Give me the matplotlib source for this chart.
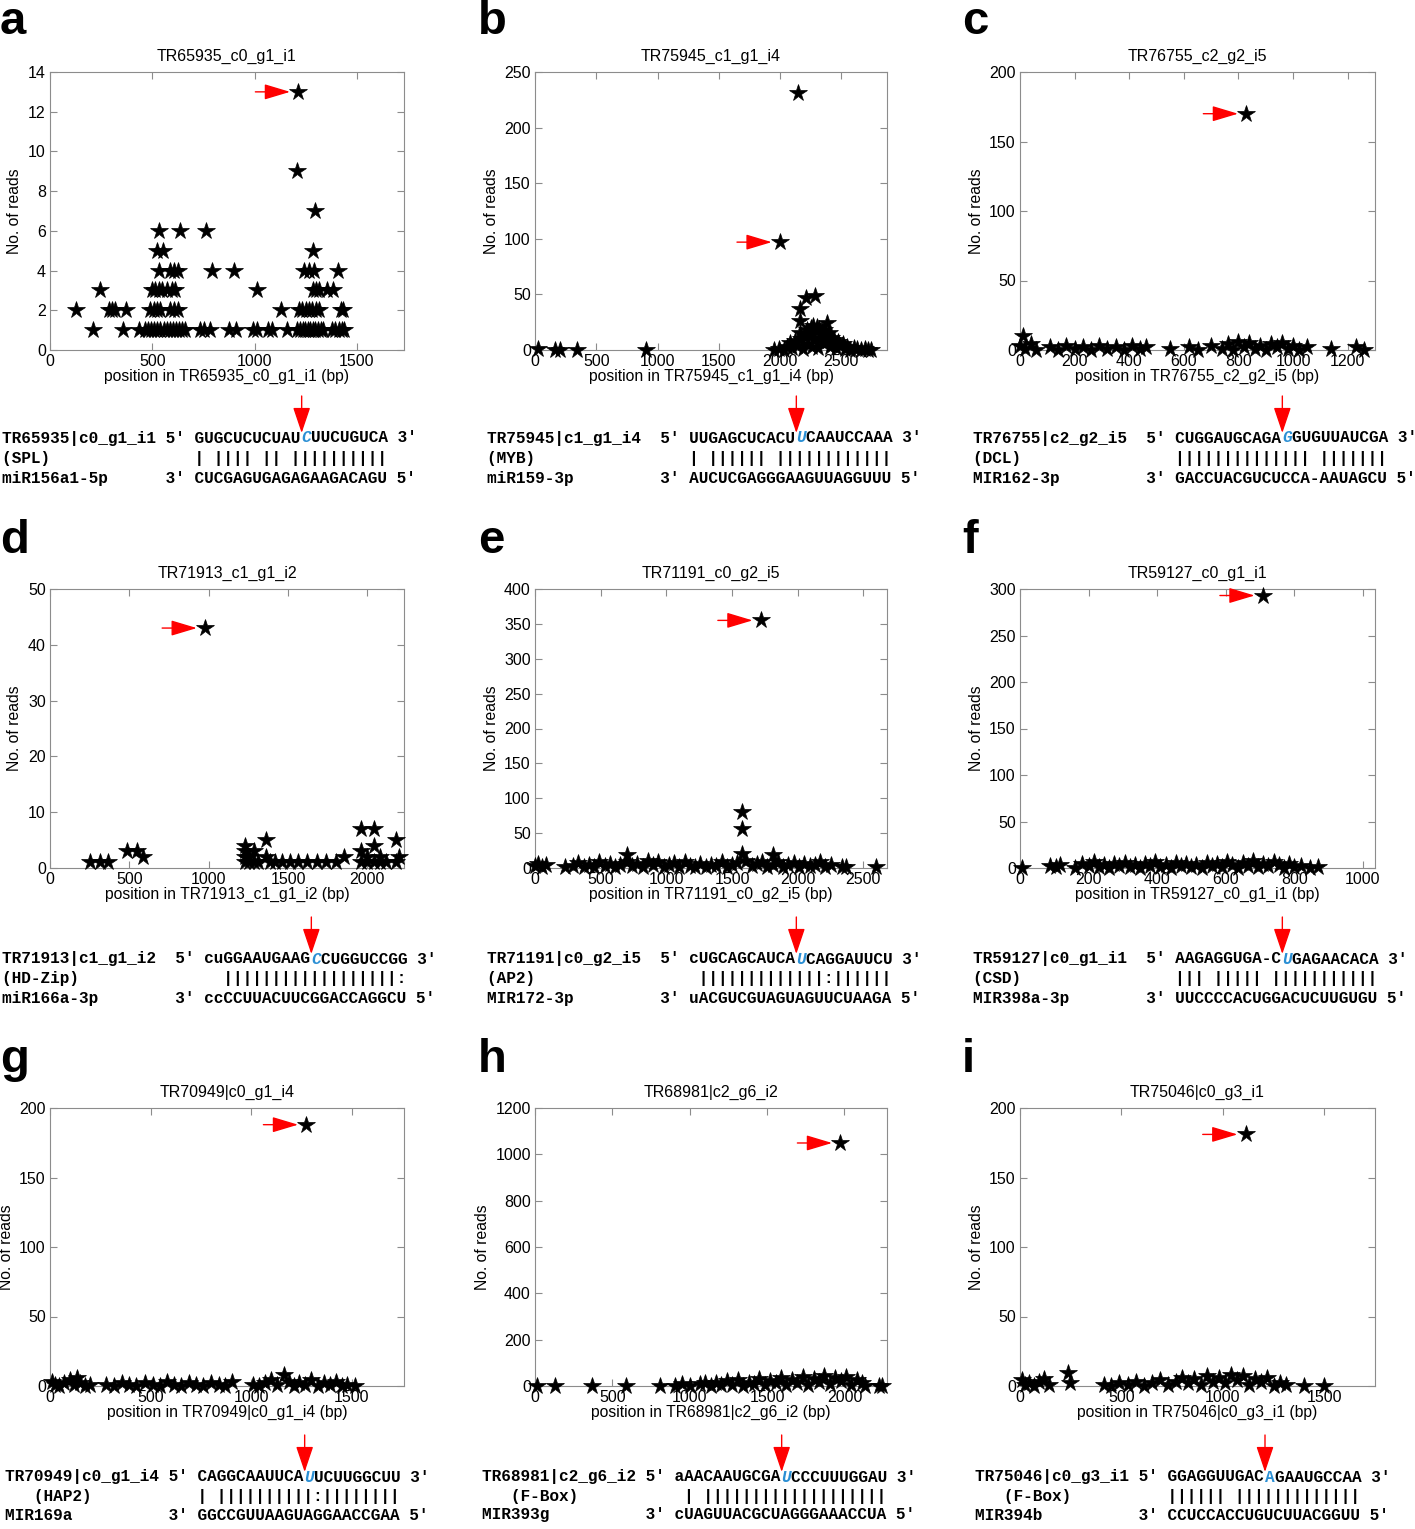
import numpy as np
import matplotlib.pyplot as plt
from matplotlib.patches import FancyArrowPatch

plt.rcParams["font.family"] = ["Liberation Sans", "DejaVu Sans"]

# ---- read counts along each transcript: (position in bp, no. of reads) ----
a_points = [(212, 1), (355, 1), (433, 1), (466, 1), (480, 1), (495, 1), (510, 1), (525, 1), (540, 1),
            (555, 1), (570, 1), (585, 1), (600, 1), (615, 1), (630, 1), (645, 1), (662, 1), (735, 1),
            (752, 1), (784, 1), (874, 1), (907, 1), (993, 1), (1013, 1), (1067, 1), (1083, 1), (1160, 1),
            (1209, 1), (1222, 1), (1235, 1), (1248, 1), (1260, 1), (1272, 1), (1285, 1), (1297, 1),
            (1310, 1), (1322, 1), (1332, 1), (1380, 1), (1395, 1), (1410, 1), (1425, 1), (1438, 1),
            (126, 2), (286, 2), (302, 2), (318, 2), (372, 2), (490, 2), (506, 2), (523, 2), (538, 2),
            (588, 2), (605, 2), (626, 2), (1130, 2), (1217, 2), (1233, 2), (1249, 2), (1265, 2),
            (1282, 2), (1298, 2), (1315, 2), (1422, 2), (1430, 2),
            (245, 3), (498, 3), (515, 3), (531, 3), (547, 3), (572, 3), (596, 3), (613, 3), (1013, 3),
            (1283, 3), (1300, 3), (1315, 3), (1356, 3), (1381, 3),
            (531, 4), (588, 4), (605, 4), (626, 4), (792, 4), (899, 4), (1242, 4), (1266, 4), (1291, 4),
            (1408, 4), (523, 5), (551, 5), (1283, 5), (534, 6), (637, 6), (763, 6), (1296, 7), (1209, 9)]
a_hit = (1214, 13)

b_points = [(27, 1), (163, 0), (204, 0), (340, 0), (905, 0), (2147, 231),
            (1950, 0), (1990, 1), (2030, 0), (2060, 3), (2080, 6), (2100, 2), (2120, 8), (2140, 4),
            (2160, 15), (2160, 26), (2160, 37), (2170, 10), (2190, 1), (2200, 12), (2209, 47),
            (2220, 18), (2230, 5), (2240, 14), (2250, 20), (2260, 3), (2270, 22), (2280, 9),
            (2288, 49), (2290, 17), (2300, 21), (2310, 2), (2320, 19), (2330, 11), (2340, 16),
            (2350, 6), (2360, 18), (2370, 13), (2383, 24), (2390, 8), (2400, 15), (2410, 3),
            (2420, 11), (2430, 6), (2440, 9), (2460, 2), (2470, 7), (2490, 4), (2510, 5), (2530, 1),
            (2550, 3), (2570, 0), (2600, 2), (2630, 1), (2660, 0), (2690, 1), (2720, 0), (2745, 0)]
b_hit = (2000, 97)

c_points = [(0, 3), (10, 10), (20, 1), (40, 4), (60, 0), (110, 2), (140, 0), (170, 3), (200, 1),
            (230, 2), (260, 0), (290, 3), (320, 1), (350, 2), (380, 0), (410, 3), (440, 1), (460, 2),
            (550, 1), (620, 2), (650, 0), (700, 3), (740, 1), (760, 4), (780, 0), (800, 6), (820, 2),
            (840, 5), (860, 1), (880, 3), (900, 0), (920, 4), (940, 2), (960, 5), (980, 1), (1000, 3),
            (1020, 0), (1050, 2), (1140, 1), (1230, 2), (1260, 0)]
c_hit = (829, 170)

d_points = [(252, 1), (315, 1), (366, 1), (486, 3), (549, 3), (587, 2), (1230, 1), (1230, 2), (1230, 3),
            (1230, 4), (1255, 1), (1255, 2), (1285, 1), (1285, 3), (1310, 1), (1360, 5), (1360, 2),
            (1385, 1), (1420, 1), (1460, 1), (1510, 1), (1560, 1), (1620, 1), (1680, 1), (1740, 1),
            (1800, 1), (1850, 2), (1960, 7), (1960, 3), (1960, 1), (2000, 1), (2000, 2), (2040, 7),
            (2040, 4), (2040, 1), (2080, 1), (2080, 2), (2120, 1), (2180, 5), (2180, 1), (2200, 2)]
d_hit = (978, 43)

e_points = [(0, 3), (20, 6), (50, 1), (80, 4), (230, 2), (290, 3), (330, 7), (370, 1), (410, 5),
            (450, 2), (490, 8), (530, 3), (570, 6), (610, 1), (650, 4), (700, 9), (700, 18), (740, 3),
            (780, 6), (820, 2), (860, 10), (900, 5), (940, 8), (980, 1), (1020, 4), (1060, 7),
            (1100, 2), (1140, 9), (1180, 3), (1220, 1), (1260, 6), (1300, 2), (1340, 5), (1380, 3),
            (1420, 8), (1460, 1), (1500, 4), (1540, 7), (1575, 80), (1575, 56), (1575, 20), (1610, 10),
            (1650, 3), (1690, 6), (1730, 9), (1770, 2), (1810, 18), (1810, 5), (1850, 8), (1890, 1),
            (1930, 4), (1970, 7), (2010, 2), (2050, 6), (2090, 3), (2130, 5), (2170, 9), (2210, 1),
            (2250, 4), (2340, 2), (2370, 1), (2600, 1)]
e_hit = (1720, 355)

f_points = [(5, 0), (88, 2), (105, 1), (117, 3), (160, 0), (180, 4), (200, 2), (215, 6), (230, 1),
            (245, 3), (260, 0), (275, 4), (290, 2), (305, 5), (320, 1), (335, 3), (350, 0), (365, 4),
            (380, 2), (395, 6), (410, 1), (425, 3), (440, 0), (455, 5), (470, 2), (485, 4), (500, 1),
            (515, 3), (530, 0), (545, 5), (560, 2), (575, 4), (590, 1), (605, 6), (620, 3), (635, 0),
            (650, 5), (665, 2), (680, 7), (695, 1), (710, 4), (725, 2), (740, 6), (755, 3), (770, 0),
            (785, 4), (800, 1), (820, 2), (845, 0), (870, 1)]
f_hit = (709, 293)

g_points = [(10, 3), (25, 1), (45, 0), (70, 2), (100, 4), (120, 1), (135, 6), (150, 2), (175, 0),
            (200, 1), (280, 1), (320, 0), (360, 2), (395, 1), (430, 0), (470, 2), (510, 1), (545, 0),
            (580, 3), (615, 1), (650, 0), (690, 2), (725, 1), (760, 0), (800, 2), (840, 1), (870, 0),
            (905, 3), (1010, 1), (1040, 0), (1070, 2), (1100, 4), (1130, 1), (1165, 8), (1190, 3),
            (1215, 0), (1240, 2), (1270, 1), (1300, 4), (1330, 0), (1360, 2), (1390, 1), (1420, 3),
            (1450, 0), (1475, 1), (1515, 0)]
g_hit = (1275, 188)

h_points = [(13, 0), (130, 0), (368, 0), (587, 0), (806, 0), (903, 0), (950, 10), (1000, 0),
            (1065, 8), (1100, 15), (1135, 0), (1170, 12), (1205, 3), (1240, 20), (1275, 6),
            (1310, 25), (1345, 0), (1380, 15), (1415, 8), (1450, 30), (1485, 3), (1520, 22),
            (1555, 12), (1590, 35), (1625, 6), (1660, 28), (1695, 15), (1730, 40), (1765, 3),
            (1800, 30), (1835, 18), (1870, 45), (1905, 9), (1940, 33), (1975, 20), (2010, 38),
            (2045, 6), (2080, 24), (2115, 12), (2130, 0), (2226, 0), (2245, 2)]
h_hit = (1974, 1049)

i_points = [(10, 4), (25, 1), (45, 2), (70, 0), (95, 3), (120, 5), (145, 1), (235, 9), (245, 2),
            (415, 1), (450, 0), (490, 2), (530, 1), (570, 3), (610, 0), (650, 2), (690, 4), (730, 1),
            (770, 3), (800, 6), (830, 2), (860, 5), (890, 1), (920, 7), (950, 3), (980, 6), (1010, 2),
            (1040, 8), (1070, 4), (1100, 7), (1130, 1), (1160, 5), (1190, 3), (1220, 6), (1250, 0),
            (1280, 2), (1310, 1), (1400, 0), (1500, 0)]
i_hit = (1113, 181)

letters = ["a", "b", "c", "d", "e", "f", "g", "h", "i"]
titles = ["TR65935_c0_g1_i1", "TR75945_c1_g1_i4", "TR76755_c2_g2_i5",
          "TR71913_c1_g1_i2", "TR71191_c0_g2_i5", "TR59127_c0_g1_i1",
          "TR70949|c0_g1_i4", "TR68981|c2_g6_i2", "TR75046|c0_g3_i1"]
points = [a_points, b_points, c_points, d_points, e_points, f_points, g_points, h_points, i_points]
hits = [a_hit, b_hit, c_hit, d_hit, e_hit, f_hit, g_hit, h_hit, i_hit]
x_max = [1730, 2873, 1300, 2231, 2680, 1036, 1760, 2275, 1750]
x_ticks = [[0, 500, 1000, 1500], [0, 500, 1000, 1500, 2000, 2500], [0, 200, 400, 600, 800, 1000, 1200],
           [0, 500, 1000, 1500, 2000], [0, 500, 1000, 1500, 2000, 2500], [0, 200, 400, 600, 800, 1000],
           [0, 500, 1000, 1500], [0, 500, 1000, 1500, 2000], [0, 500, 1000, 1500]]
y_max = [14, 250, 200, 50, 400, 300, 200, 1200, 200]
y_step = [2, 50, 50, 10, 50, 50, 50, 200, 50]

# ---- miRNA / target alignments ----
genes = ["TR65935|c0_g1_i1", "TR75945|c1_g1_i4", "TR76755|c2_g2_i5",
         "TR71913|c1_g1_i2", "TR71191|c0_g2_i5", "TR59127|c0_g1_i1",
         "TR70949|c0_g1_i4", "TR68981|c2_g6_i2", "TR75046|c0_g3_i1"]
gaps = [" ", "  ", "  ", "  ", "  ", "  ", " ", " ", " "]
families = ["(SPL)", "(MYB)", "(DCL)", "(HD-Zip)", "(AP2)", "(CSD)", "   (HAP2)", "   (F-Box)", "   (F-Box)"]
mirnas = ["miR156a1-5p", "miR159-3p", "MIR162-3p", "miR166a-3p", "MIR172-3p", "MIR398a-3p",
          "MIR169a", "MIR393g", "MIR394b"]
targets = ["GUGCUCUCUAUCUUCUGUCA", "UUGAGCUCACUUCAAUCCAAA", "CUGGAUGCAGAGGUGUUAUCGA",
           "cuGGAAUGAAGCCUGGUCCGG", "cUGCAGCAUCAUCAGGAUUCU", "AAGAGGUGA-CUGAGAACACA",
           "CAGGCAAUUCAUUCUUGGCUU", "aAACAAUGCGAUCCCUUUGGAU", "GGAGGUUGACAGAAUGCCAA"]
pairings = ["| |||| || ||||||||||", "| |||||| ||||||||||||", "|||||||||||||| |||||||",
            "  ||||||||||||||||||:", " |||||||||||||:||||||", "||| ||||| |||||||||||",
            "| ||||||||||:||||||||", " | |||||||||||||||||||", "|||||| |||||||||||||"]
mir_seqs = ["CUCGAGUGAGAGAAGACAGU", "AUCUCGAGGGAAGUUAGGUUU", "GACCUACGUCUCCA-AAUAGCU",
            "ccCCUUACUUCGGACCAGGCU", "uACGUCGUAGUAGUUCUAAGA", "UUCCCCACUGGACUCUUGUGU",
            "GGCCGUUAAGUAGGAACCGAA", "cUAGUUACGCUAGGGAAACCUA", "CCUCCACCUGUCUUACGGUU"]
cut_site = [11, 11, 11, 11, 11, 11, 11, 11, 10]

W, H = 1415, 1529
fig = plt.figure(figsize=(W / 100, H / 100), dpi=100)

col_left = [50, 535, 1020]
col_w = [354, 352, 355]
row_top = [72, 589, 1108]
row_h = [278, 279, 278]
letter_x = [0, 478, 962]
letter_y = [22, 541, 1060]
text_left = [2, 487, 973, 2, 487, 973, 5, 482, 975]
line_y = [(438, 458, 478), (959, 979, 998), (1477, 1497, 1515)]

fs_mono = 11.6
cw = 0.6 * fs_mono * 100 / 72  # px per monospace char
mono = dict(family=["Liberation Mono", "DejaVu Sans Mono"], weight="bold", fontsize=fs_mono, va="center")
red = "#ff0000"
blue = "#2b8fd4"

for k in range(9):
    r, c = divmod(k, 3)
    l, t, w, h = col_left[c], row_top[r], col_w[c], row_h[r]
    ax = fig.add_axes([l / W, 1 - (t + h) / H, w / W, h / H])
    xs, ys = np.array(points[k]).T
    ax.plot(xs, ys, "*", color="k", ms=13, mew=0.5, clip_on=False, zorder=3)
    hx, hy = hits[k]
    ax.plot([hx], [hy], "*", color="k", ms=13, mew=0.5, clip_on=False, zorder=3)
    ax.annotate("", xy=(hx, hy), xytext=(-31, 0), textcoords="offset points",
                arrowprops=dict(arrowstyle="-|>,head_length=0.8,head_width=0.24", mutation_scale=20,
                                color=red, lw=1, shrinkA=0, shrinkB=6))
    ax.set_xlim(0, x_max[k])
    ax.set_ylim(0, y_max[k])
    ax.set_xticks(x_ticks[k])
    ax.set_yticks(np.arange(0, y_max[k] + 1, y_step[k]))
    ax.tick_params(direction="in", top=True, right=True, length=5, width=0.8, color="0.55",
                   labelsize=11.5, pad=3)
    for sp in ax.spines.values():
        sp.set_color("0.55")
        sp.set_linewidth(0.8)
    ax.set_title(titles[k], fontsize=11.5, pad=8)
    ax.set_xlabel("position in " + titles[k] + " (bp)", fontsize=11.3, labelpad=0)
    ax.set_ylabel("No. of reads", fontsize=11.3, labelpad=4)

    fig.text(letter_x[c] / W, 1 - letter_y[r] / H, letters[k], fontsize=34, fontweight="bold",
             ha="left", va="center")

    # alignment block under the plot
    x0 = text_left[k]
    seq_col = len(genes[k]) + len(gaps[k]) + 3
    tgt = targets[k]
    cut = cut_site[k]
    head = genes[k] + gaps[k] + "5' " + tgt[:cut]
    tail = tgt[cut + 1:] + " 3'"
    line2 = families[k].ljust(seq_col) + pairings[k]
    line3 = mirnas[k].ljust(seq_col - 3) + "3' " + mir_seqs[k] + " 5'"
    y1, y2, y3 = line_y[r]
    bx = x0 + (seq_col + cut) * cw
    fig.text(x0 / W, 1 - y1 / H, head, ha="left", **mono)
    fig.text(bx / W, 1 - y1 / H, tgt[cut], ha="left", color=blue,
             style="italic" if k < 8 else "normal", **mono)
    fig.text((bx + cw) / W, 1 - y1 / H, tail, ha="left", **mono)
    fig.text(x0 / W, 1 - y2 / H, line2, ha="left", **mono)
    fig.text(x0 / W, 1 - y3 / H, line3, ha="left", **mono)
    arr = FancyArrowPatch((bx / W, 1 - (y1 - 42) / H), (bx / W, 1 - (y1 - 5) / H),
                          arrowstyle="-|>,head_length=0.8,head_width=0.27", mutation_scale=20,
                          color=red, lw=1, shrinkA=0, shrinkB=0, transform=fig.transFigure)
    fig.add_artist(arr)

fig.savefig("out.png", dpi=100)
